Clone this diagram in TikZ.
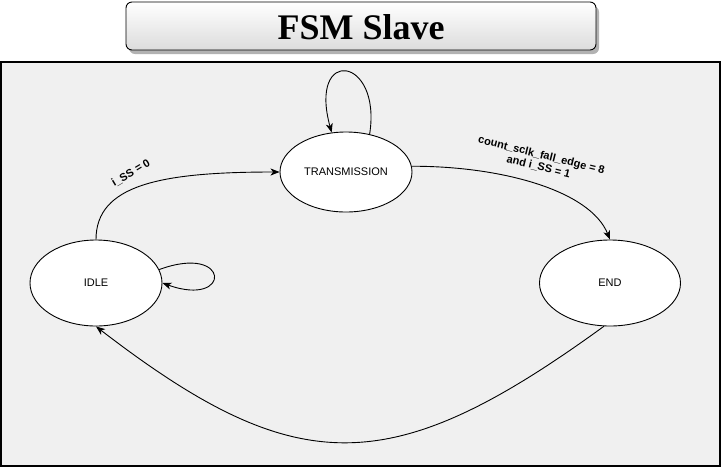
\documentclass[tikz,border=0pt]{standalone}
\usepackage{fontspec}
\setmainfont{Liberation Serif}
\setsansfont{Liberation Sans}
\usepackage{tikz}
\usetikzlibrary{positioning}
\usetikzlibrary{shapes,arrows,arrows.meta}
\usepackage{xcolor}
\definecolor{panelgray}{HTML}{F0F0F0}
\definecolor{titlegray}{HTML}{DCDCDC}

\begin{document}
\begin{tikzpicture}[x=1pt, y=-1pt, line width=0.9pt, >={Stealth[length=9pt, width=7pt, inset=2.5pt]},
    state/.style={draw, shape=ellipse, fill=white, inner sep=0pt, font=\sffamily\fontsize{11}{13}\selectfont},
    trans/.style={font=\sffamily\bfseries\fontsize{11}{13}\selectfont, align=center, inner sep=1pt}]
    \useasboundingbox (0,0) rectangle (721,467);

    % title and panel
    \fill [gray!60, rounded corners=6pt] (129,6) rectangle (599,54);
    \draw [rounded corners=6pt, top color=white, bottom color=titlegray] (126,2) rectangle (596,50);
    \node [font=\bfseries\fontsize{36}{40}\selectfont] (title) at (361,27) {FSM Slave};
    \draw [line width=1.4pt, fill=panelgray] (1,62) rectangle (720,466);

    % states
    \node [state, minimum width=132pt, minimum height=80pt] (trans) at (346,172) {TRANSMISSION};
    \node [state, minimum width=132pt, minimum height=86pt] (idle) at (96,283) {IDLE};
    \node [state, minimum width=141pt, minimum height=86pt] (end) at (610,283) {END};

    % transitions
    \draw [->] (idle.north) .. controls (96,185) and (160,172) .. (trans.west);
    \draw [->] (trans.5) .. controls (500,166) and (590,190) .. (end.north);
    \draw [->] (end.-98) .. controls (391,481) and (297,481) .. (idle.south);
    \draw [->] (idle.12) .. controls (231,243) and (232,308) .. (idle.east);
    \draw [->] (trans.58) .. controls (382,56) and (308,46) .. (trans.110);

    \node [trans, rotate=31] (go) at (131,173) {i\_SS = 0};
    \node [trans, rotate=-14] (stop) at (540,161) {count\_sclk\_fall\_edge = 8\\[-1pt]and i\_SS = 1};
\end{tikzpicture}
\end{document}
